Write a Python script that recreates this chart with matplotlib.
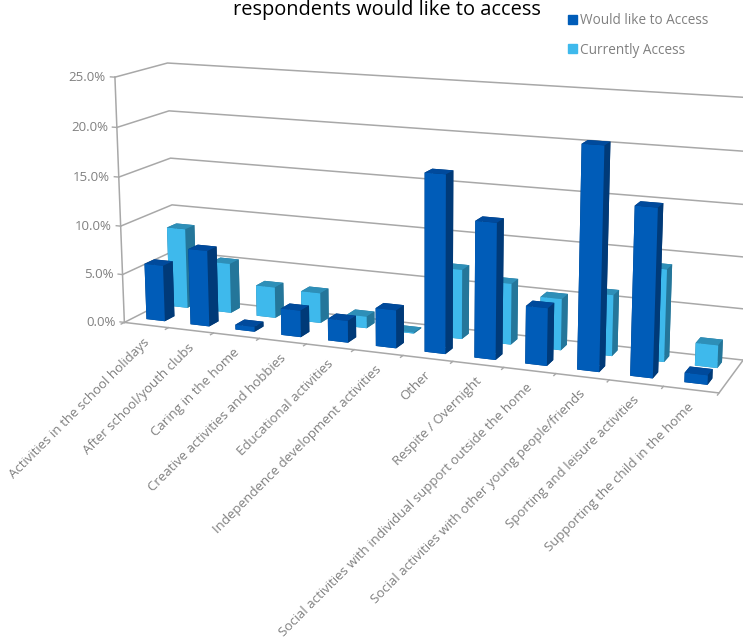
import matplotlib
matplotlib.use("Agg")
import numpy as np
import matplotlib.pyplot as plt
from matplotlib.patches import Patch
from mpl_toolkits.mplot3d import proj3d

plt.rcParams['font.family'] = ['Open Sans', 'DejaVu Sans']

categories = ["Activities in the school holidays", "After school/youth clubs", "Caring in the home",
              "Creative activities and hobbies", "Educational activities",
              "Independence development activities", "Other", "Respite / Overnight",
              "Social activities with individual support outside the home",
              "Social activities with other young people/friends",
              "Sporting and leisure activities", "Supporting the child in the home"]
would_like = [5.8, 7.8, 0.5, 2.7, 2.2, 3.8, 17.5, 13.3, 5.6, 21.3, 16.0, 0.9]
currently = [8.4, 5.2, 3.2, 3.1, 1.2, 0.1, 7.0, 6.1, 5.1, 6.0, 9.0, 2.2]
z_ticks = [0, 5, 10, 15, 20, 25]
z_labels = ["0.0%", "5.0%", "10.0%", "15.0%", "20.0%", "25.0%"]

# face order for bar3d: bottom, top, front, back, left, right
dark = ["#003f80", "#004a9c", "#005cb8", "#003a78", "#003a78", "#003a78"]
light = ["#2a86ad", "#2e8fb8", "#3eb9ec", "#24769a", "#24769a", "#24769a"]
grid_col = "#a8a8a8"
text_col = "#808080"

fig = plt.figure(figsize=(7.43, 6.38), dpi=100)
ax = fig.add_axes([78/743, 77/638, 672/743, 672/638], projection='3d', computed_zorder=False)
ax.set_proj_type('persp', focal_length=0.5)
ax.view_init(elev=13, azim=-68.5)
ax.set_box_aspect((642, 110, 264))
n = len(categories)
ax.set_xlim(0, n)
ax.set_ylim(0, 2)
ax.set_zlim(0, 25)
ax.set_axis_off()
ax.patch.set_alpha(0)
M = ax.get_proj()


def label_at(x, y, z, s, dx, dy, **kw):
    x2, y2, _ = proj3d.proj_transform(x, y, z, M)
    ax.annotate(s, xy=(x2, y2), xycoords='data', xytext=(dx, dy), textcoords='offset pixels',
                color=text_col, fontsize=9.5, annotation_clip=False, **kw)


# walls
for z in z_ticks:
    ax.plot([0, 0, n], [0, 2, 2], [z, z, z], color=grid_col, lw=1.1, zorder=1)
ax.plot([0, n, n], [0, 0, 2], [0, 0, 0], color=grid_col, lw=1.1, zorder=1)
ax.plot([0, 0], [0, 0], [0, 25], color=grid_col, lw=1.1, zorder=1)

# ticks
for i in range(n + 1):
    ax.plot([i, i], [0, -0.12], [0, 0], color=grid_col, lw=1, zorder=1)
for z, lab in zip(z_ticks, z_labels):
    ax.plot([0, -0.1], [0, 0], [z, z], color=grid_col, lw=1, zorder=1)
    label_at(0, 0, z, lab, -9, 0, ha='right', va='center')

for i, lab in enumerate(categories):
    label_at(i + 0.5, 0, 0, lab, 1, -15, rotation=45, rotation_mode='anchor', ha='right', va='center')

# bars, back row first then front row, left to right
bw = 0.42
bd = 0.38
for i, v in enumerate(currently):
    ax.bar3d(i + 0.45 - bw/2, 1.55 - bd/2, 0, bw, bd, v, color=light, shade=False, zorder=10 + i)
for i, v in enumerate(would_like):
    ax.bar3d(i + 0.5 - bw/2, 0.55 - bd/2, 0, bw, bd, v, color=dark, shade=False, zorder=30 + i)

fig.text(387/743, 1 - 15/638, "respondents would like to access", ha='center', va='baseline',
         fontsize=14.4, color='black')
fig.legend(handles=[Patch(color="#005cb8", label="Would like to Access"),
                    Patch(color="#3eb9ec", label="Currently Access")],
           loc='upper left', bbox_to_anchor=(556/743, 1 - 1/638), frameon=False, fontsize=9.8,
           labelcolor=text_col, labelspacing=1.05, handlelength=0.65, handleheight=0.65, handletextpad=0.2)

fig.savefig("out.png", dpi=100)
